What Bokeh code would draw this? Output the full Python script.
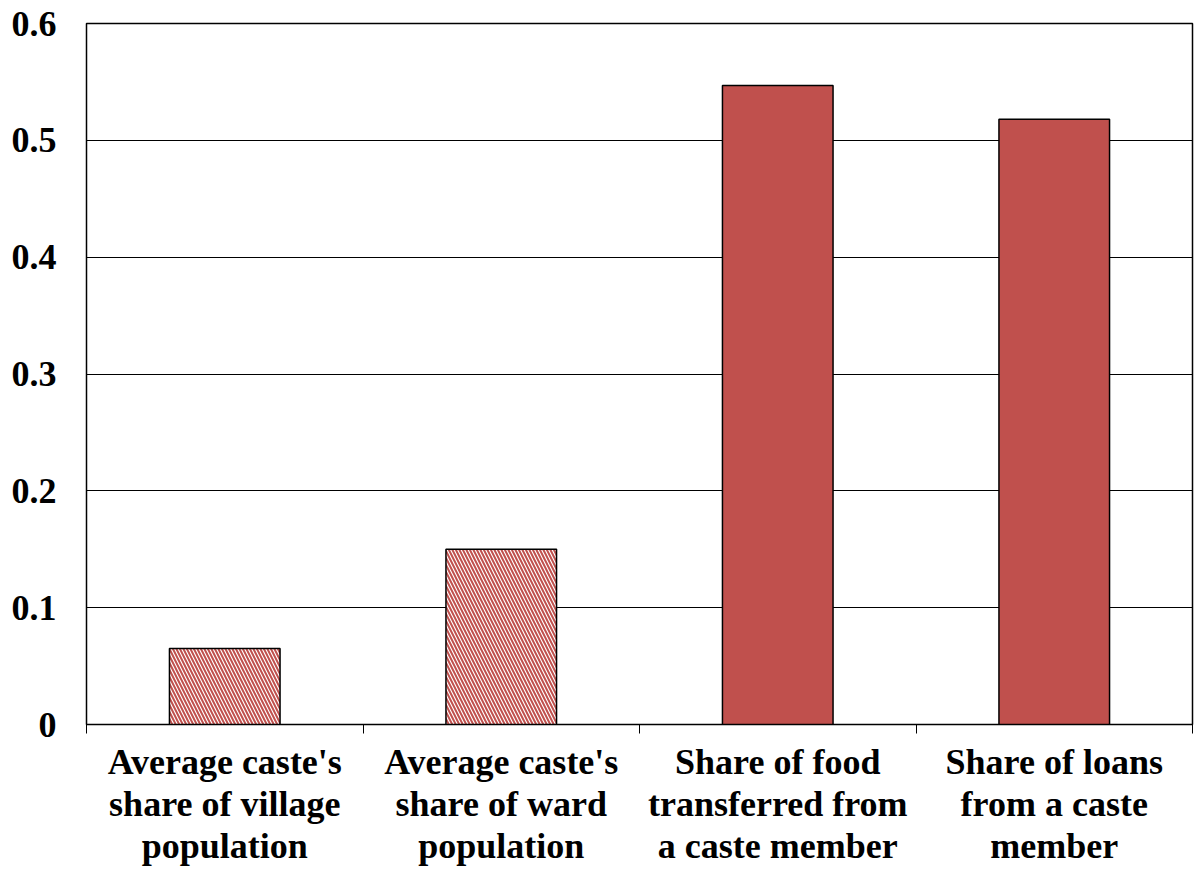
from bokeh.plotting import figure
from bokeh.models import FixedTicker, LinearAxis, Range1d
from bokeh.embed import file_html
from bokeh.resources import INLINE

labels = ["Average caste's\nshare of village\npopulation",
          "Average caste's\nshare of ward\npopulation",
          "Share of food\ntransferred from\na caste member",
          "Share of loans\nfrom a caste\nmember"]
values = [0.065, 0.15, 0.547, 0.518]
hatched = [True, True, False, False]
positions = [0.5, 1.5, 2.5, 3.5]

p = figure(width=1194, height=869, output_backend="svg", toolbar_location=None,
           x_range=Range1d(0, 4), y_range=Range1d(0, 0.6))
p.min_border_left = 86
p.min_border_right = 2
p.min_border_top = 23
p.min_border_bottom = 145
p.outline_line_color = "black"
p.outline_line_width = 1.5

hx = [x for x, h in zip(positions, hatched) if h]
hv = [v for v, h in zip(values, hatched) if h]
sx = [x for x, h in zip(positions, hatched) if not h]
sv = [v for v, h in zip(values, hatched) if not h]
p.vbar(x=hx, top=hv, width=0.4, fill_color="white", hatch_pattern="\\",
       hatch_color="#c0504d", hatch_scale=7, hatch_weight=2,
       line_color="black", line_width=1.5)
p.vbar(x=sx, top=sv, width=0.4, fill_color="#c0504d",
       line_color="black", line_width=1.5)

p.xgrid.visible = False
p.ygrid.grid_line_color = "black"
p.ygrid.grid_line_width = 1

font = "Liberation Serif"
p.yaxis.ticker = FixedTicker(ticks=[0, 0.1, 0.2, 0.3, 0.4, 0.5, 0.6])
p.yaxis.major_label_overrides = {0: "0", 0.1: "0.1", 0.2: "0.2", 0.3: "0.3",
                                 0.4: "0.4", 0.5: "0.5", 0.6: "0.6"}
p.yaxis.major_label_text_font = font
p.yaxis.major_label_text_font_style = "bold"
p.yaxis.major_label_text_font_size = "36px"
p.yaxis.major_label_text_color = "black"
p.yaxis.major_label_standoff = 30
p.yaxis.major_tick_in = 0
p.yaxis.major_tick_out = 0
p.yaxis.minor_tick_line_color = None
p.yaxis.axis_line_color = "black"

p.xaxis.ticker = FixedTicker(ticks=[0, 1, 2, 3, 4])
p.xaxis.major_label_text_font_size = "0px"
p.xaxis.major_tick_in = 0
p.xaxis.major_tick_out = 9
p.xaxis.minor_tick_line_color = None
p.xaxis.axis_line_color = "black"

cat_axis = LinearAxis(ticker=FixedTicker(ticks=positions),
                      major_label_overrides={x: l for x, l in zip(positions, labels)})
cat_axis.axis_line_color = None
cat_axis.major_tick_line_color = None
cat_axis.minor_tick_line_color = None
cat_axis.major_label_text_font = font
cat_axis.major_label_text_font_style = "bold"
cat_axis.major_label_text_font_size = "36px"
cat_axis.major_label_text_color = "black"
cat_axis.major_label_text_line_height = 1.05
cat_axis.major_label_standoff = 2
p.add_layout(cat_axis, "below")

open("out.html", "w").write(file_html(p, INLINE))
